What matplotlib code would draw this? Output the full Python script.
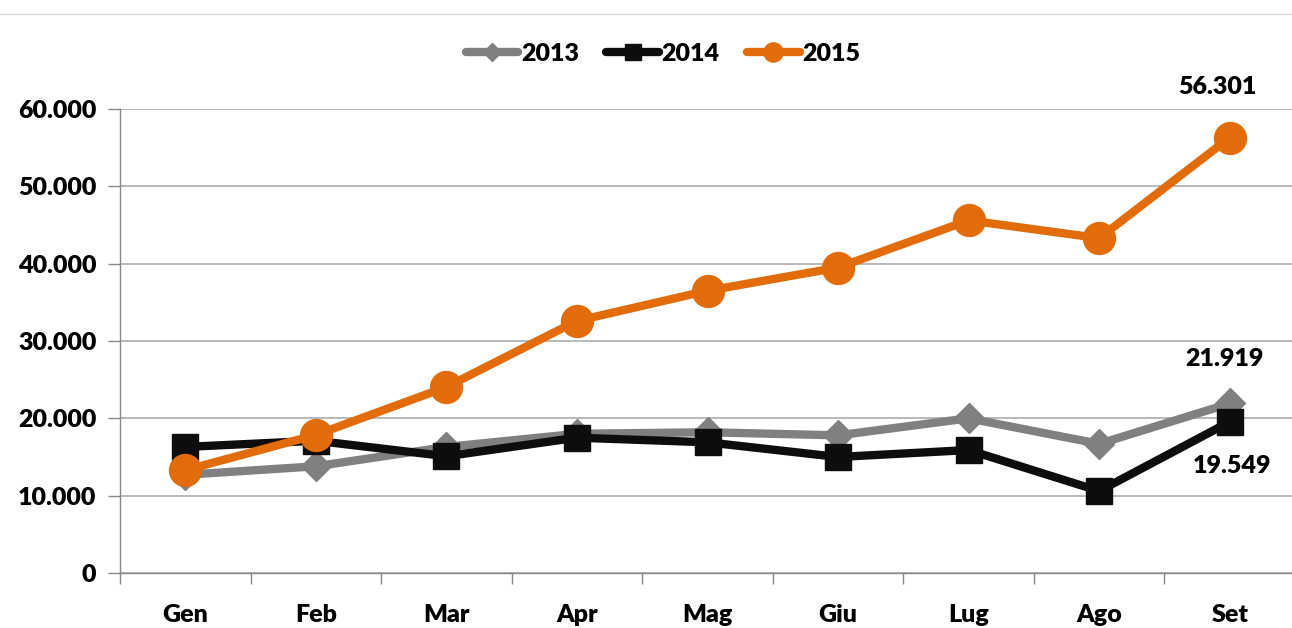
import matplotlib
matplotlib.use("Agg")
import matplotlib.pyplot as plt
import numpy as np

months = ["Gen", "Feb", "Mar", "Apr", "Mag", "Giu", "Lug", "Ago", "Set"]
y2013 = [12700, 13800, 16300, 18000, 18200, 17800, 20000, 16700, 21919]
y2014 = [16300, 17100, 15100, 17500, 16900, 15000, 15900, 10600, 19549]
y2015 = [13300, 17850, 24050, 32600, 36500, 39500, 45600, 43300, 56301]
yticks = [0, 10000, 20000, 30000, 40000, 50000, 60000]
ytick_labels = ["0", "10.000", "20.000", "30.000", "40.000", "50.000", "60.000"]

W = 'heavy'
plt.rcParams['font.family'] = ['Lato', 'DejaVu Sans']
plt.rcParams['font.weight'] = W

fig = plt.figure(figsize=(12.92, 6.28), dpi=100)
ax = fig.add_axes([120/1292, 1-573/628, (1295-120)/1292, (573-109)/628])

x = np.arange(len(months))
ax.plot(x, y2013, color='#808080', lw=6, marker='D', ms=15, label='2013', zorder=3, solid_capstyle='round')
ax.plot(x, y2014, color='#0d0d0d', lw=6, marker='s', ms=19, label='2014', zorder=4, solid_capstyle='round')
ax.plot(x, y2015, color='#e36c0a', lw=6, marker='o', ms=23, label='2015', zorder=5, solid_capstyle='round')

ax.set_xlim(-0.5, len(months) - 0.5)
ax.set_ylim(0, 60000)
ax.set_yticks(yticks)
ax.set_yticklabels(ytick_labels)
ax.set_xticks(x)
ax.set_xticklabels(months)
ax.set_xticks(np.arange(-0.5, len(months), 1), minor=True)
ax.tick_params(axis='x', which='major', length=0, pad=22, labelsize=18)
ax.tick_params(axis='x', which='minor', length=8, color='#888888', width=1)
ax.tick_params(axis='y', length=9, color='#888888', width=1, pad=8, labelsize=18)
for lab in ax.get_xticklabels() + ax.get_yticklabels():
    lab.set_fontweight(W)
ax.yaxis.grid(True, color='#b3b3b3', lw=1.3)
ax.set_axisbelow(True)
for s in ['top', 'right']:
    ax.spines[s].set_visible(False)
ax.spines['left'].set_color('#888888')
ax.spines['bottom'].set_color('#888888')
ax.spines['left'].set_linewidth(1)
ax.spines['bottom'].set_linewidth(1)

def fmt(v):
    return f"{v:,}".replace(",", ".")

# data labels
ax.annotate(fmt(y2015[-1]), (x[-1], y2015[-1]), xytext=(-8.6, 36.7),
            textcoords='offset points', ha='center', va='center', fontsize=18, fontweight=W)
ax.annotate(fmt(y2013[-1]), (x[-1], y2013[-1]), xytext=(-3.6, 31.7),
            textcoords='offset points', ha='center', va='center', fontsize=18, fontweight=W)
ax.annotate(fmt(y2014[-1]), (x[-1], y2014[-1]), xytext=(2, -32),
            textcoords='offset points', ha='center', va='center', fontsize=18, fontweight=W)

leg = fig.legend(loc='center', bbox_to_anchor=(663/1292, 1-54/628), ncol=3, frameon=False,
                 fontsize=18, handlelength=2.1, columnspacing=1.1, handletextpad=0.1,
                 markerscale=0.6)
for t in leg.get_texts():
    t.set_fontweight(W)

fig.add_artist(plt.Line2D([0, 1], [1-14/628, 1-14/628], color='#d9d9d9', lw=1))

fig.savefig("out.png", dpi=100)
